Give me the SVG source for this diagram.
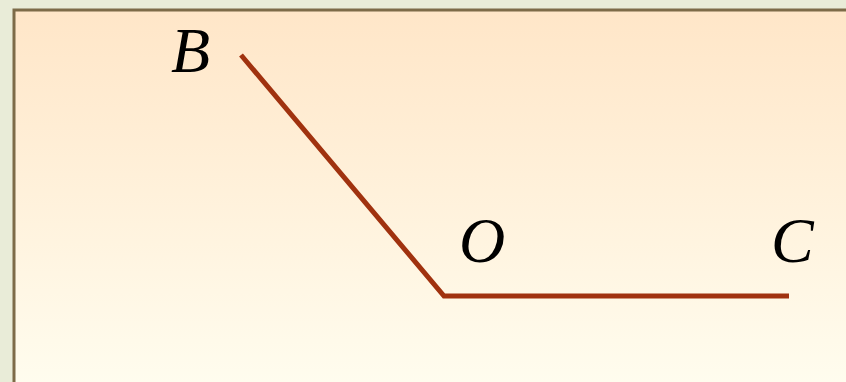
<svg xmlns="http://www.w3.org/2000/svg" width="846" height="382" viewBox="0 0 846 382">
<defs>
<linearGradient id="bg" x1="0" y1="0" x2="0" y2="1">
<stop offset="0" stop-color="#ffe6c8"/>
<stop offset="1" stop-color="#fffdef"/>
</linearGradient>
<style>
.lbl{font-family:"Liberation Serif","Times New Roman",serif;font-style:italic;font-size:64px;fill:#000}
.seg{stroke:#a0320f;stroke-width:5;fill:none;stroke-linecap:butt;stroke-linejoin:miter}
</style>
</defs>
<rect x="0" y="0" width="846" height="382" fill="#e9ecd8"/>
<rect x="14" y="10" width="840" height="380" fill="url(#bg)" stroke="#7d6b48" stroke-width="3"/>
<g id="connectors">
<polyline class="seg" points="241,55 444,296 789,296"/>
</g>
<g id="B"><text class="lbl" x="171" y="72">B</text></g>
<g id="O"><text class="lbl" x="459" y="262">O</text></g>
<g id="C"><text class="lbl" x="771" y="262">C</text></g>
</svg>
